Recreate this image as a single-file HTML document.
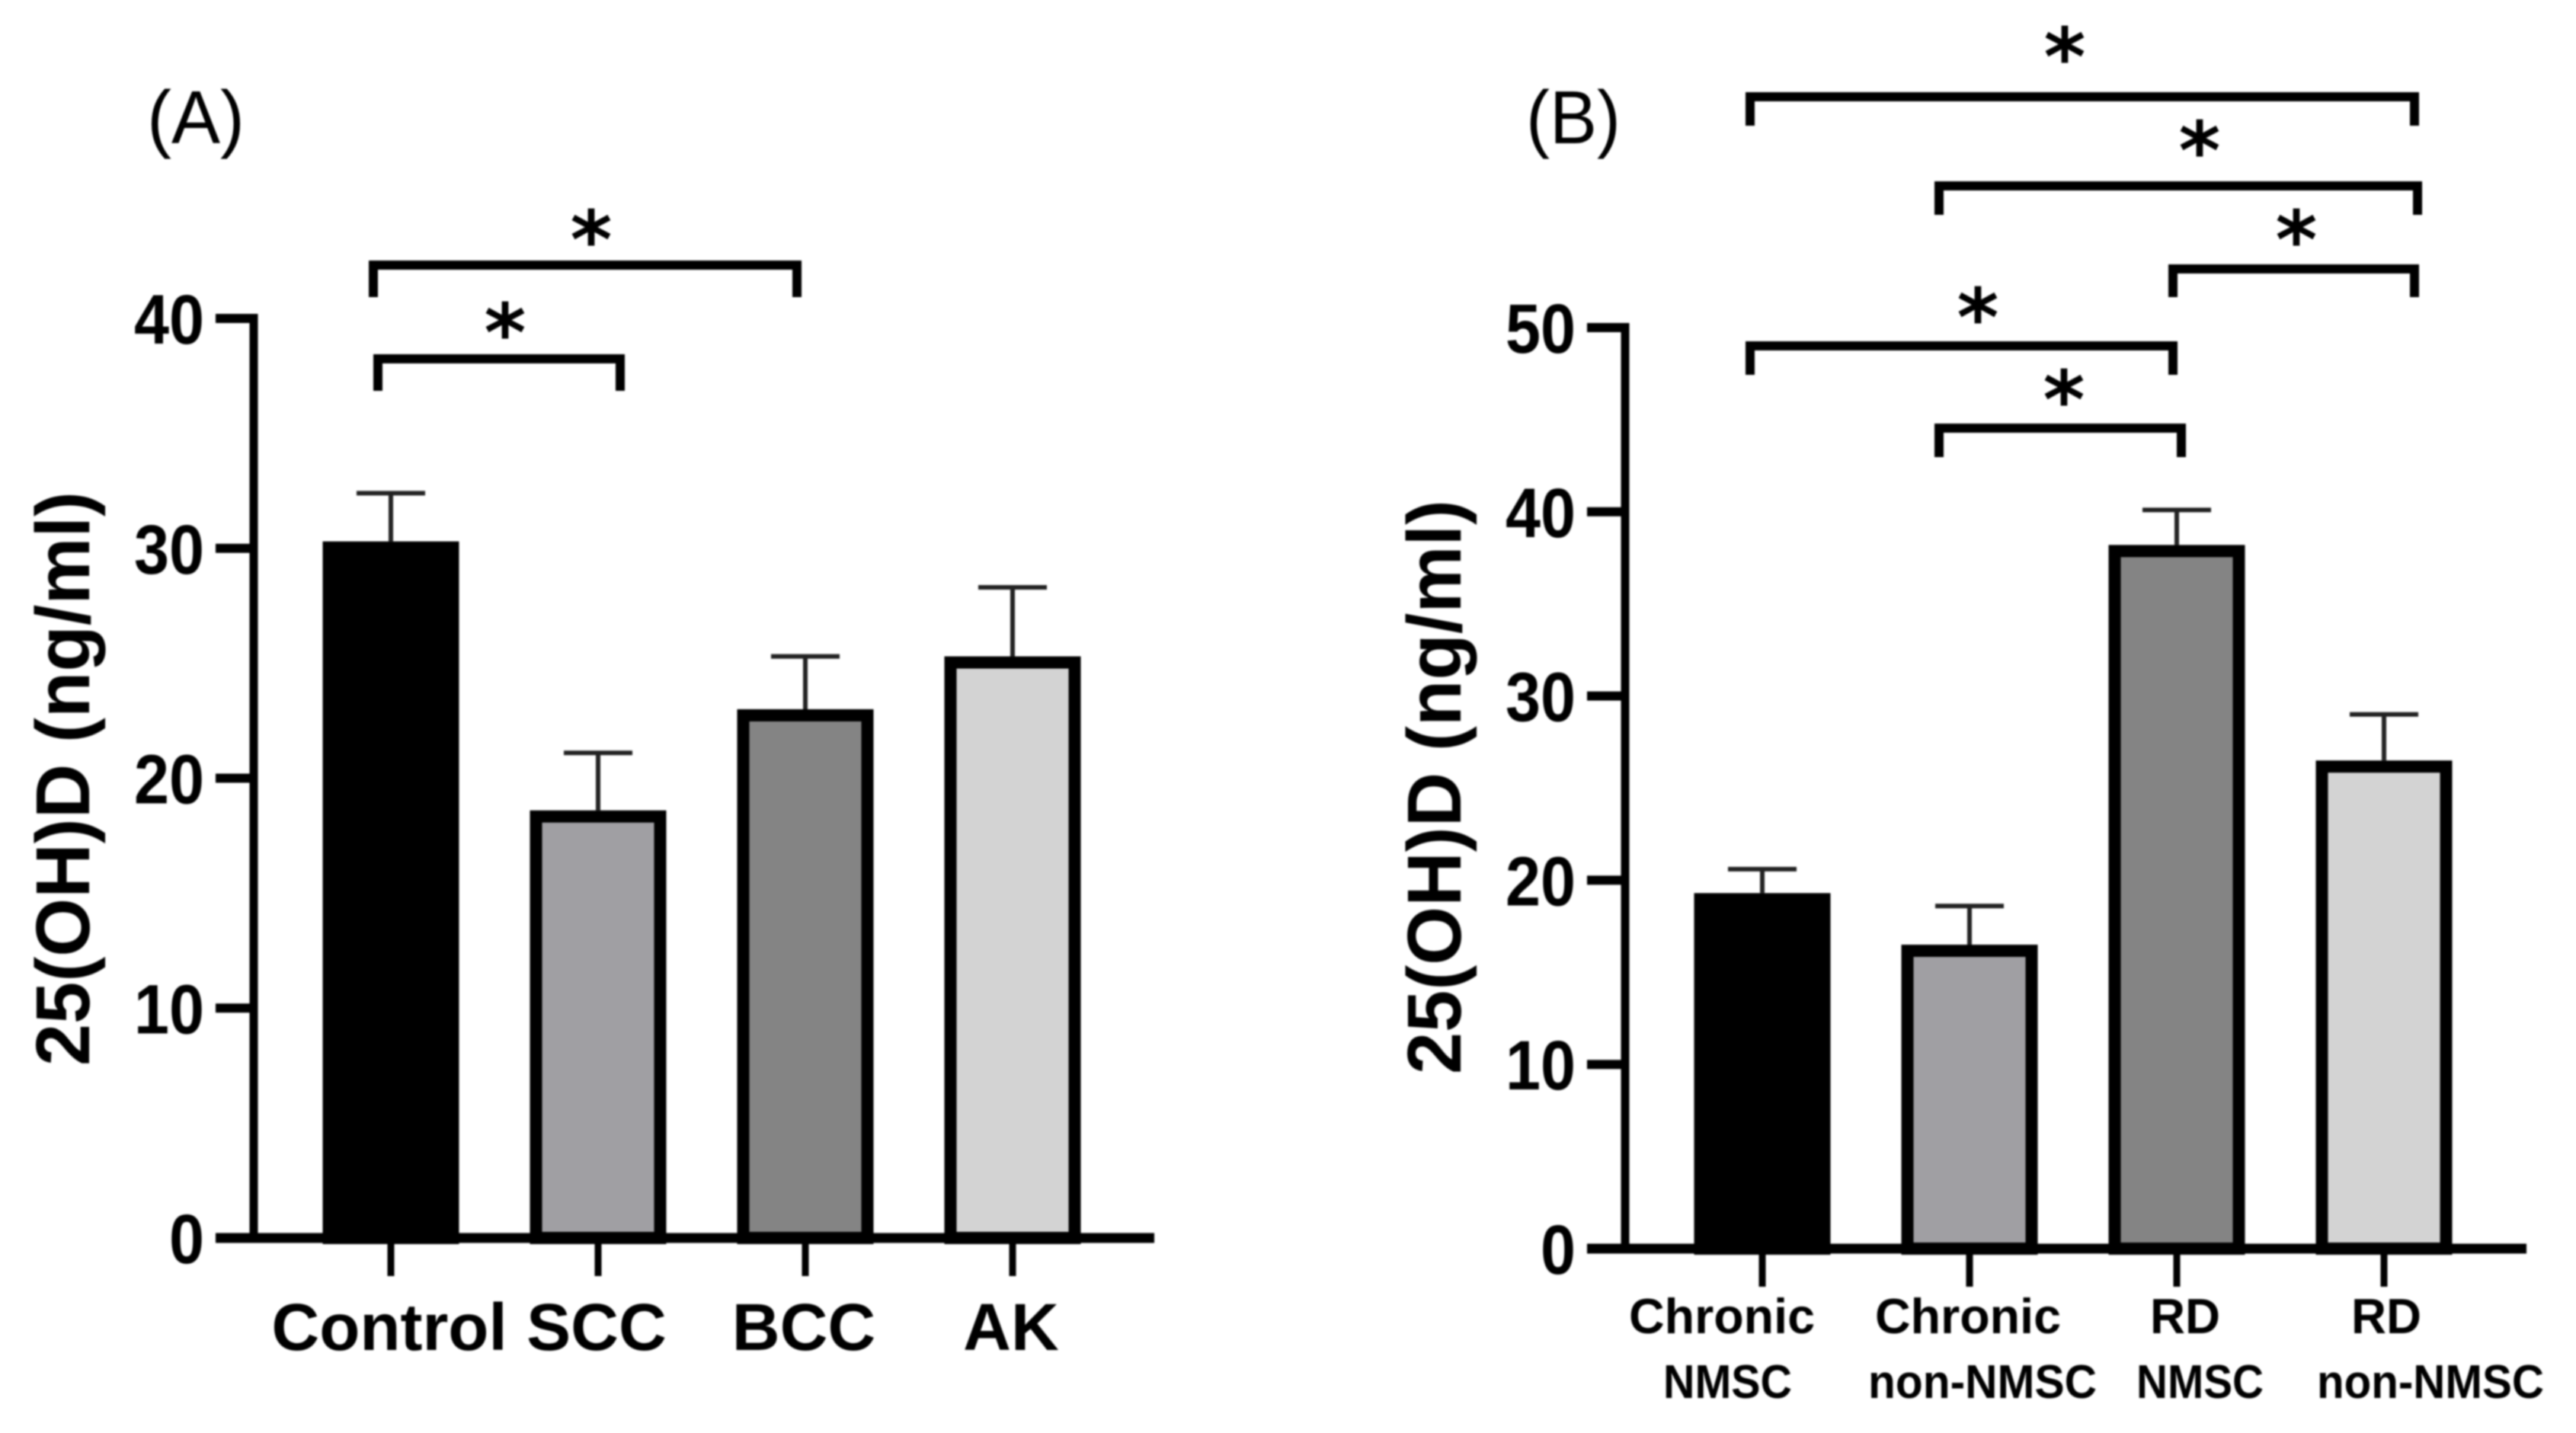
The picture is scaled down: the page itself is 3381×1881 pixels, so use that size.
<!DOCTYPE html>
<html lang="en">
<head>
<meta charset="utf-8">
<title>25(OH)D levels by group</title>
<style>
html,body{margin:0;padding:0;background:#fff;}
svg{display:block;filter:blur(1px);}
text{font-family:"Liberation Sans",Arial,sans-serif;fill:#000;}
.b{font-weight:700;}
.star{font-family:"DejaVu Sans","Liberation Sans",sans-serif;font-weight:700;font-size:105px;}
</style>
</head>
<body>
<svg id="figure" xmlns="http://www.w3.org/2000/svg" width="3381" height="1881" viewBox="0 0 3381 1881">
  <rect x="0" y="0" width="3381" height="1881" fill="#fff"/>

  <text x="193" y="188" font-size="98" textLength="128" lengthAdjust="spacingAndGlyphs" fill="#222">(A)</text>
  <text x="2003" y="188" font-size="98" textLength="124" lengthAdjust="spacingAndGlyphs" fill="#222">(B)</text>

  <g fill="none" stroke="#000" stroke-width="12">
    <path d="M490 390V348H1046V390"/>
    <path d="M496 513V471H814V513"/>
  </g>
  <text class="star" x="776" y="352" text-anchor="middle">*</text>
  <text class="star" x="663" y="474" text-anchor="middle">*</text>

  <g fill="none" stroke="#000" stroke-width="12">
    <path d="M2297 165V127H3169V165"/>
    <path d="M2545 282V244H3173V282"/>
    <path d="M2852 390V353H3169V390"/>
    <path d="M2297 492V454H2852V492"/>
    <path d="M2545 600V562H2863V600"/>
  </g>
  <text class="star" x="2710" y="112" text-anchor="middle">*</text>
  <text class="star" x="2887" y="235" text-anchor="middle">*</text>
  <text class="star" x="3014" y="352" text-anchor="middle">*</text>
  <text class="star" x="2596" y="454" text-anchor="middle">*</text>
  <text class="star" x="2709" y="562" text-anchor="middle">*</text>

  <g>
    <text class="b" x="2138" y="1750" font-size="65" textLength="244" lengthAdjust="spacingAndGlyphs">Chronic</text>
    <text class="b" x="2461" y="1750" font-size="65" textLength="244" lengthAdjust="spacingAndGlyphs">Chronic</text>
    <text class="b" x="2822" y="1750" font-size="65" textLength="92" lengthAdjust="spacingAndGlyphs">RD</text>
    <text class="b" x="3086" y="1750" font-size="65" textLength="92" lengthAdjust="spacingAndGlyphs">RD</text>
    <text class="b" x="2183" y="1835" font-size="62" textLength="169" lengthAdjust="spacingAndGlyphs">NMSC</text>
    <text class="b" x="2452" y="1835" font-size="62" textLength="300" lengthAdjust="spacingAndGlyphs">non-NMSC</text>
    <text class="b" x="2804" y="1835" font-size="62" textLength="167" lengthAdjust="spacingAndGlyphs">NMSC</text>
    <text class="b" x="3041" y="1835" font-size="62" textLength="298" lengthAdjust="spacingAndGlyphs">non-NMSC</text>
  </g>

  <g id="panel-a"></g>
  <g id="panel-b"></g>
</svg>

<script>
const categoriesA = ["Control", "SCC", "BCC", "AK"];
const valuesA = [30.3, 18.6, 23.0, 25.3];
const errorsA = [2.1, 2.5, 2.3, 3.0];
const ticksA = [0, 10, 20, 30, 40];

const categoriesB = ["Chronic NMSC", "Chronic non-NMSC", "RD NMSC", "RD non-NMSC"];
const valuesB = [19.3, 16.5, 38.2, 26.5];
const errorsB = [1.3, 2.1, 1.9, 2.5];
const ticksB = [0, 10, 20, 30, 40, 50];

const yAxisTitle = "25(OH)D (ng/ml)";
const barFills = ["#000000", "#a09fa3", "#848484", "#d3d3d3"];

const NS = "http://www.w3.org/2000/svg";

function make(parent, tag, attrs, text) {
  const el = document.createElementNS(NS, tag);
  for (const k in attrs) el.setAttribute(k, attrs[k]);
  if (text !== undefined) el.textContent = text;
  parent.appendChild(el);
  return el;
}

function drawPanel(cfg) {
  const root = document.getElementById(cfg.id);
  const maxTick = cfg.ticks[cfg.ticks.length - 1];
  const y = v => cfg.y0 + (cfg.yTop - cfg.y0) * (v / maxTick);
  const x = i => cfg.x0 + i * cfg.step;
  const barW = 179, border = 16;

  cfg.categories.forEach((cat, i) => {
    const cx = x(i);
    const top = y(cfg.values[i]);
    const errTop = y(cfg.values[i] + cfg.errors[i]);
    const slug = cfg.prefix + "-" + cat.toLowerCase().replace(/\s+/g, "-");

    const stem = make(root, "line", {x1: cx, x2: cx, y1: top, y2: errTop, stroke: "#222", "stroke-width": 6});
    
    
    const cap = make(root, "line", {x1: cx - 45, x2: cx + 45, y1: errTop, y2: errTop, stroke: "#222", "stroke-width": 6});
    
    

    const bar = make(root, "rect", {
      x: cx - barW / 2 + border / 2,
      y: top + border / 2,
      width: barW - border,
      height: Math.max(0, cfg.y0 - top - border / 2),
      fill: barFills[i], stroke: "#000", "stroke-width": border
    });
    
    

    const tick = make(root, "line", {x1: cx, x2: cx, y1: cfg.y0, y2: cfg.y0 + 50, stroke: "#000", "stroke-width": 9});
    
    

    if (cfg.showCategories) {
      const label = make(root, "text", {
        x: cx - 2, y: cfg.y0 + 147, "font-size": 87, "font-weight": 700, "text-anchor": "middle"
      }, cat);
      
      
    }
  });

  const yAxis = make(root, "line", {x1: cfg.axisX, x2: cfg.axisX, y1: cfg.yTop - 6, y2: cfg.y0, stroke: "#000", "stroke-width": 11});
  
  
  const xAxis = make(root, "line", {x1: cfg.axisX - 50, x2: cfg.xEnd, y1: cfg.y0, y2: cfg.y0, stroke: "#000", "stroke-width": 13});
  
  

  cfg.ticks.forEach(t => {
    const ty = y(t);
    const tick = make(root, "line", {x1: cfg.axisX - 50, x2: cfg.axisX, y1: ty, y2: ty, stroke: "#000", "stroke-width": 12});
    
    
    const str = String(t);
    const label = make(root, "text", {
      x: cfg.axisX - 65, y: ty + 33, "font-size": 92, "font-weight": 700, "text-anchor": "end",
      textLength: str.length * 46, lengthAdjust: "spacingAndGlyphs"
    }, str);
    
    
  });

  const title = make(root, "text", {
    transform: "translate(" + cfg.titleX + "," + cfg.titleY + ") rotate(-90)",
    "font-size": 100, "font-weight": 700, "text-anchor": "middle",
    textLength: 754, lengthAdjust: "spacingAndGlyphs"
  }, yAxisTitle);
  
  
}

drawPanel({
  id: "panel-a", prefix: "a", categories: categoriesA, values: valuesA, errors: errorsA, ticks: ticksA,
  y0: 1625, yTop: 418, x0: 513, step: 272, axisX: 333, xEnd: 1515,
  titleX: 117, titleY: 1022, showCategories: true
});
drawPanel({
  id: "panel-b", prefix: "b", categories: categoriesB, values: valuesB, errors: errorsB, ticks: ticksB,
  y0: 1639, yTop: 430, x0: 2313, step: 272, axisX: 2133, xEnd: 3316,
  titleX: 1917, titleY: 1033, showCategories: false
});
</script>
</body>
</html>
